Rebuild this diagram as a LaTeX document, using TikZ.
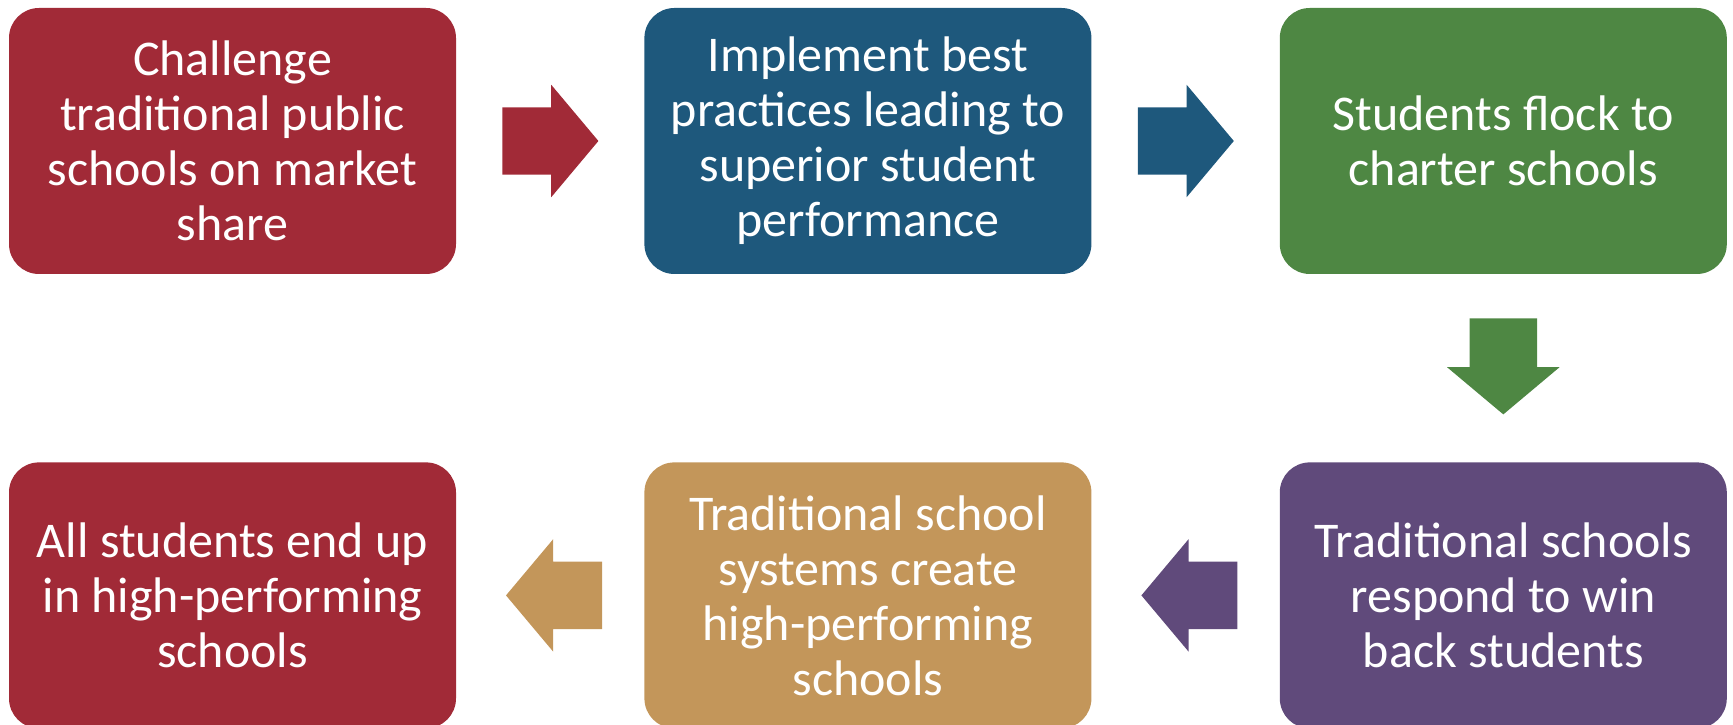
\documentclass[tikz,border=0pt]{standalone}
\usepackage{fontspec}
\setmainfont{Carlito}
\usepackage{tikz}
\usetikzlibrary{positioning}
\usetikzlibrary{shapes,shapes.arrows}
\definecolor{boxred}{HTML}{A12A37}
\definecolor{boxblue}{HTML}{1E587C}
\definecolor{boxgreen}{HTML}{4E8743}
\definecolor{boxpurple}{HTML}{604A7B}
\definecolor{boxtan}{HTML}{C3965A}
\tikzstyle{stage} = [rectangle, rounded corners=30pt, text=white, align=center, minimum width=447pt, minimum height=266pt, inner sep=0pt, font=\fontsize{50}{55}\selectfont]
\tikzstyle{blockarrow} = [single arrow, draw=none, anchor=tail, minimum height=96pt, single arrow head extend=22.5pt, single arrow tip angle=100]
\tikzstyle{harrow} = [blockarrow, inner xsep=0pt, inner ysep=33.5pt]
\tikzstyle{varrow} = [blockarrow, inner xsep=33.5pt, inner ysep=0pt, shape border rotate=270]

\begin{document}
\begin{tikzpicture}[x=1pt, y=1pt]
	\useasboundingbox (0,0) rectangle (1733,725);
	% top row
	\node [stage, fill=boxred] (N1) at (232.5,584) {Challenge\\traditional public\\schools on market\\share};
	\node [stage, fill=boxblue, right=188pt of N1] (N2) {Implement best\\practices leading to\\superior student\\performance};
	\node [stage, fill=boxgreen, right=188pt of N2] (N3) {Students flock to\\charter schools};
	% bottom row
	\node [stage, fill=boxpurple, below=188pt of N3] (N4) {Traditional schools\\respond to win\\back students};
	\node [stage, fill=boxtan, left=188pt of N4] (N5) {Traditional school\\systems create\\high-performing\\schools};
	\node [stage, fill=boxred, left=188pt of N5] (N6) {All students end up\\in high-performing\\schools};

	% draw arrows
	\path (N1) -- (N2) node [midway, harrow, xshift=-48pt, fill=boxred] (A1) {};
	\path (N2) -- (N3) node [midway, harrow, xshift=-48pt, fill=boxblue] (A2) {};
	\path (N3) -- (N4) node [midway, varrow, yshift=50pt, fill=boxgreen] (A3) {};
	\path (N4) -- (N5) node [midway, harrow, xshift=52pt, fill=boxpurple, shape border rotate=180] (A4) {};
	\path (N5) -- (N6) node [midway, harrow, xshift=52pt, fill=boxtan, shape border rotate=180] (A5) {};
\end{tikzpicture}
\end{document}
